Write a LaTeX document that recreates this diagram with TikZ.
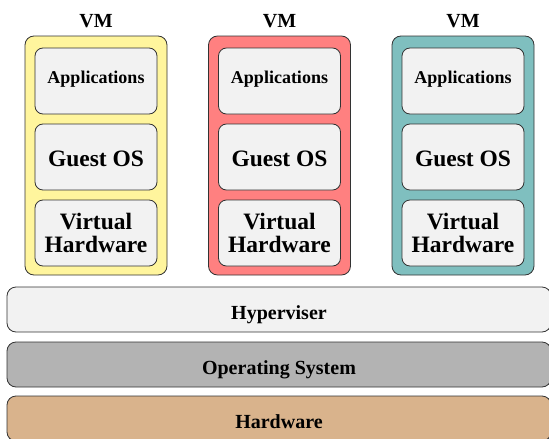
\documentclass[tikz,border=0pt]{standalone}
\usepackage{fontspec}
\setmainfont{Liberation Serif}
\newcommand{\bigtxt}{\rmfamily\bfseries\fontsize{23.5}{23}\selectfont}
\newcommand{\apptxt}{\rmfamily\bfseries\fontsize{18}{18}\selectfont}
\newcommand{\bartxt}{\rmfamily\bfseries\fontsize{20}{20}\selectfont}
\begin{document}
\begin{tikzpicture}[x=1pt,y=-1pt,
  vmbox/.style={draw=black!80,line width=0.8pt,rounded corners=9pt,minimum width=142pt,minimum height=239pt,inner sep=0pt},
  vmpart/.style={draw=black!80,line width=0.8pt,rounded corners=8pt,fill=boxgray,minimum width=122pt,minimum height=66pt,inner sep=0pt,align=center,font=\bigtxt},
  apppart/.style={vmpart,font=\apptxt,text height=10pt,text depth=5pt},
  ospart/.style={vmpart,text height=18pt,text depth=0pt},
  bar/.style={draw=black!80,line width=0.8pt,rounded corners=9pt,minimum width=544pt,minimum height=45pt,inner sep=0pt,font=\bartxt,text height=20pt,text depth=0pt},
  vmlabel/.style={font=\bartxt,inner sep=0pt}]
\definecolor{boxgray}{HTML}{F2F2F2}
\definecolor{vmyellow}{HTML}{FFF59D}
\definecolor{vmred}{HTML}{FF8080}
\definecolor{vmteal}{HTML}{7FBFBF}
\definecolor{osgray}{HTML}{B3B3B3}
\definecolor{hwtan}{HTML}{D9B38C}
\useasboundingbox (0,0) rectangle (549,439);
% VMs
\foreach \cx/\col/\i in {96/vmyellow/1,279.5/vmred/2,463/vmteal/3}{
  \node[vmlabel] (lab\i) at (\cx,21) {VM};
  \node[vmbox,fill=\col] (vm\i) at (\cx,155.5) {};
  \node[apppart] (app\i) at (\cx,81) {Applications};
  \node[ospart] (os\i) at (\cx,157) {Guest OS};
  \node[vmpart] (vh\i) at (\cx,233) {Virtual\\Hardware};
}
% Layers
\node[bar,fill=boxgray] (hyp) at (279,309.5) {Hyperviser};
\node[bar,fill=osgray] (hos) at (279,364.5) {Operating System};
\node[bar,fill=hwtan] (hw) at (279,418.5) {Hardware};
\end{tikzpicture}
\end{document}
